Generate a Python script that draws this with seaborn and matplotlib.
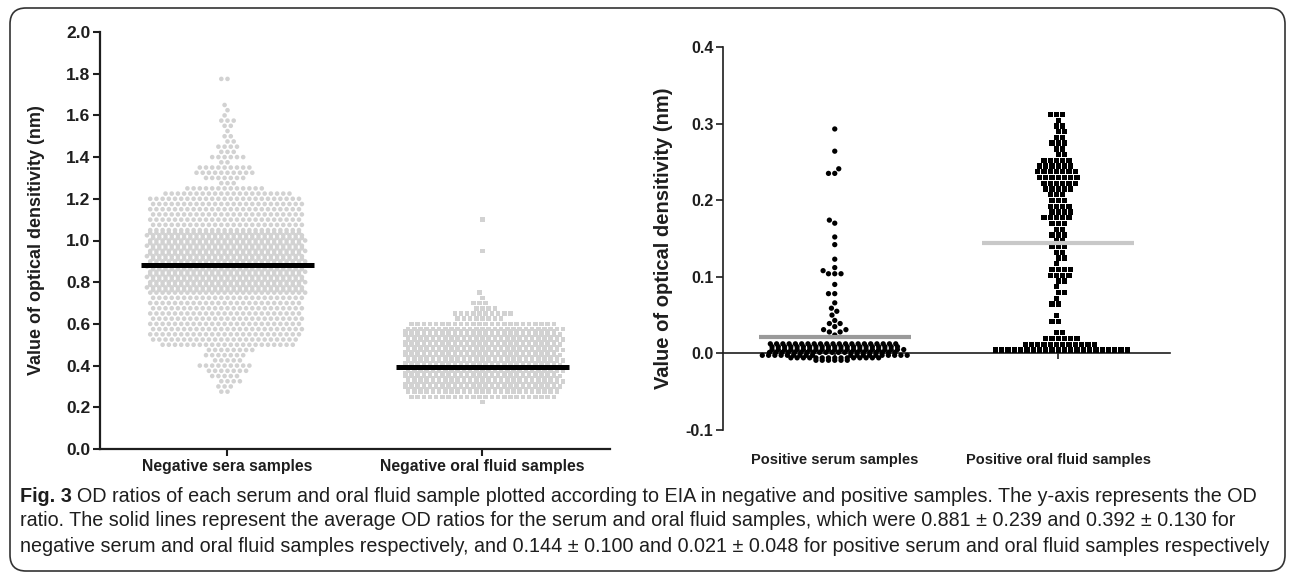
import numpy as np
import pandas as pd
import matplotlib
matplotlib.use("Agg")
import matplotlib.pyplot as plt
import seaborn as sns
from matplotlib.patches import FancyBboxPatch

# ====================================================
# Data (value level -> number of dots in that row)
# ====================================================
neg_groups = ["Negative sera samples", "Negative oral fluid samples"]
neg_means = [0.881, 0.392]

sera_levels = [0.275, 0.300, 0.325, 0.350, 0.375, 0.400, 0.425, 0.450, 0.475, 0.500,
               0.525, 0.550, 0.575, 0.600, 0.625, 0.650, 0.675, 0.700, 0.725, 0.750,
               0.775, 0.800, 0.825, 0.850, 0.875, 0.900, 0.925, 0.950, 0.975, 1.000,
               1.025, 1.050, 1.075, 1.100, 1.125, 1.150, 1.175, 1.200, 1.225, 1.250,
               1.275, 1.300, 1.325, 1.350, 1.375, 1.400, 1.425, 1.450, 1.475, 1.500,
               1.525, 1.550, 1.575, 1.600, 1.625, 1.650, 1.775]
sera_counts = [2, 3, 4, 5, 7, 9, 5, 7, 8, 22,
               24, 25, 25, 25, 25, 25, 25, 25, 25, 26,
               26, 26, 26, 26, 26, 26, 26, 26, 26, 26,
               26, 25, 25, 25, 25, 25, 25, 25, 21, 13,
               3, 7, 10, 9, 2, 6, 3, 4, 2, 2,
               1, 2, 3, 1, 1, 1, 2]
# the solid (overlapping) core of the sera column
sera_core_levels = [0.7625, 0.7875, 0.8125, 0.8375, 0.8625, 0.8875,
                    0.9125, 0.9375, 0.9625, 0.9875, 1.0125, 1.0375]
sera_core_counts = [25, 25, 25, 25, 25, 25, 25, 25, 25, 25, 25, 25]

oral_levels = [0.225, 0.250, 0.275, 0.300, 0.325, 0.350, 0.375, 0.400, 0.425, 0.450,
               0.475, 0.500, 0.525, 0.550, 0.575, 0.600, 0.625, 0.650, 0.675, 0.700,
               0.725, 0.750, 0.950, 1.100]
oral_counts = [1, 24, 25, 26, 26, 26, 26, 26, 26, 26,
               26, 26, 26, 26, 26, 24, 8, 10, 4, 3,
               1, 1, 1, 1]
oral_core_levels = [0.2875, 0.3125, 0.3375, 0.3625, 0.3875, 0.4125,
                    0.4375, 0.4625, 0.4875, 0.5125, 0.5375, 0.5625]
oral_core_counts = [25, 25, 25, 25, 25, 25, 25, 25, 25, 25, 25, 25]

pos_groups = ["Positive serum samples", "Positive oral fluid samples"]
pos_means = [0.021, 0.144]

serum_pos_levels = [-0.0090, -0.0025, 0.0050, 0.0125, 0.024, 0.028, 0.031, 0.035, 0.039,
                    0.043, 0.050, 0.055, 0.059, 0.066, 0.078, 0.090, 0.104, 0.108,
                    0.112, 0.123, 0.142, 0.152, 0.170, 0.174, 0.235, 0.241, 0.264, 0.293]
serum_pos_counts = [6, 19, 22, 21, 1, 2, 2, 1, 2,
                    1, 1, 1, 1, 1, 2, 1, 3, 1,
                    1, 1, 1, 1, 1, 1, 2, 1, 1, 1]
# overlapping base of the positive serum column
serum_core_levels = [-0.0058, 0.0013, 0.0088]
serum_core_counts = [15, 21, 21]

oral_pos_levels = [0.0045, 0.0120, 0.0195, 0.0270, 0.0420, 0.0495, 0.0645, 0.0720,
                   0.0795, 0.0870, 0.0945, 0.1020, 0.1095, 0.1170, 0.1245, 0.1320,
                   0.1395, 0.1470, 0.1545, 0.1620, 0.1695, 0.1770, 0.1845, 0.1920,
                   0.1995, 0.2070, 0.2145, 0.2220, 0.2295, 0.2370, 0.2445, 0.2520,
                   0.2595, 0.2670, 0.2745, 0.2820, 0.2895, 0.2970, 0.3045, 0.3120]
oral_pos_counts = [22, 12, 6, 2, 2, 1, 2, 1,
                   2, 1, 2, 4, 4, 1, 2, 2,
                   3, 2, 3, 2, 3, 5, 4, 4,
                   3, 3, 5, 6, 7, 7, 6, 5,
                   2, 2, 3, 2, 2, 2, 1, 3]

caption_lines = [
    "OD ratios of each serum and oral fluid sample plotted according to EIA in negative and positive samples. The y-axis represents the OD",
    "ratio. The solid lines represent the average OD ratios for the serum and oral fluid samples, which were 0.881 \u00b1 0.239 and 0.392 \u00b1 0.130 for",
    "negative serum and oral fluid samples respectively, and 0.144 \u00b1 0.100 and 0.021 \u00b1 0.048 for positive serum and oral fluid samples respectively",
]


def rows(group, levels, counts):
    return pd.DataFrame({"group": group, "value": np.repeat(levels, counts)})


# ====================================================
# Style
# ====================================================
sns.set_style("ticks")
plt.rcParams["font.family"] = ["Liberation Sans", "DejaVu Sans"]
ink = "#1e1e1e"

fig = plt.figure(figsize=(12.9, 5.74), dpi=100)
ax1 = fig.add_axes([100 / 1290, 125 / 574, 510 / 1290, 417 / 574])
ax2 = fig.add_axes([723 / 1290, 144 / 574, 447 / 1290, 383 / 574])

# ====================================================
# Left panel: negative samples
# ====================================================
light = "#d2d2d2"
left_kw = dict(x="group", y="value", order=neg_groups, ax=ax1, color=light,
               size=3.3, linewidth=0.95, edgecolor="none", warn_thresh=1)
sns.swarmplot(data=rows(neg_groups[0], sera_levels, sera_counts), marker="o", **left_kw)
sns.swarmplot(data=rows(neg_groups[0], sera_core_levels, sera_core_counts), marker="o", **left_kw)
sns.swarmplot(data=rows(neg_groups[1], oral_levels, oral_counts), marker="s", **left_kw)
sns.swarmplot(data=rows(neg_groups[1], oral_core_levels, oral_core_counts), marker="s", **left_kw)

pos = np.arange(len(neg_groups))
ax1.hlines(neg_means, pos - 0.34, pos + 0.34, color="black", lw=3.6, zorder=5)

ax1.set_xlim(-0.5, 1.5)
ax1.set_ylim(0, 2.0)
ax1.set_yticks(np.arange(0, 2.01, 0.2))
ax1.set_yticklabels([f"{v:.1f}" for v in np.arange(0, 2.01, 0.2)])
ax1.set_xlabel("")
ax1.set_ylabel("Value of optical densitivity (nm)", fontsize=13, fontweight="bold", color=ink)
ax1.yaxis.set_label_coords(-0.108, 0.5)
for s in ["top", "right"]:
    ax1.spines[s].set_visible(False)
for s in ["left", "bottom"]:
    ax1.spines[s].set_linewidth(1.6)
    ax1.spines[s].set_color(ink)
ax1.tick_params(axis="y", direction="out", length=5, width=1.5, color=ink,
                labelcolor=ink, labelsize=12.5, pad=2)
ax1.tick_params(axis="x", direction="out", length=5, width=1.5, color=ink,
                labelcolor=ink, labelsize=11.3, pad=2)
for lab in ax1.get_xticklabels() + ax1.get_yticklabels():
    lab.set_fontweight("bold")

# ====================================================
# Right panel: positive samples
# ====================================================
right_kw = dict(x="group", y="value", order=pos_groups, ax=ax2, color="black",
                size=3.8, linewidth=0.5, edgecolor="none", warn_thresh=1)
sns.swarmplot(data=rows(pos_groups[0], serum_pos_levels, serum_pos_counts), marker="o", **right_kw)
sns.swarmplot(data=rows(pos_groups[0], serum_core_levels, serum_core_counts), marker="o", **right_kw)
sns.swarmplot(data=rows(pos_groups[1], oral_pos_levels, oral_pos_counts), marker="s", **right_kw)

pos = np.arange(len(pos_groups))
ax2.hlines(pos_means, pos - 0.34, pos + 0.34, color=["#9a9a9a", "#c8c8c8"], lw=3, zorder=5)

ax2.set_xlim(-0.5, 1.5)
ax2.set_ylim(-0.1, 0.4)
ax2.set_yticks(np.arange(-0.1, 0.41, 0.1))
ax2.set_yticklabels([f"{v:.1f}" for v in np.arange(-0.1, 0.41, 0.1)])
ax2.set_xlabel("")
ax2.set_ylabel("Value of optical densitivity (nm)", fontsize=14.5, fontweight="bold", color=ink)
ax2.yaxis.set_label_coords(-0.112, 0.5)
ax2.spines["top"].set_visible(False)
ax2.spines["right"].set_visible(False)
ax2.spines["bottom"].set_position(("data", 0))
for s in ["left", "bottom"]:
    ax2.spines[s].set_linewidth(1.2)
    ax2.spines[s].set_color(ink)
ax2.tick_params(axis="y", direction="out", length=5, width=1.2, color=ink,
                labelcolor=ink, labelsize=11.5, pad=2)
ax2.tick_params(axis="x", direction="out", length=4, width=1.2, color=ink,
                labelcolor=ink, labelsize=10.5, pad=68)
for lab in ax2.get_xticklabels() + ax2.get_yticklabels():
    lab.set_fontweight("bold")

# ====================================================
# Caption and frame
# ====================================================
cap_font = ["Liberation Sans", "DejaVu Sans"]
cap_size = 14.2
cap_y = [1 - 496 / 574, 1 - 521 / 574, 1 - 546 / 574]
x0 = 20 / 1290
renderer = fig.canvas.get_renderer()
fig_label = fig.text(x0, cap_y[0], "Fig. 3", family=cap_font, fontsize=cap_size,
                     fontweight="bold", color=ink, va="center")
w = fig_label.get_window_extent(renderer).width / fig.bbox.width
fig.text(x0 + w + 5 / 1290, cap_y[0], caption_lines[0], family=cap_font,
         fontsize=cap_size, color=ink, va="center")
for line, y in zip(caption_lines[1:], cap_y[1:]):
    fig.text(x0, y, line, family=cap_font, fontsize=cap_size, color=ink, va="center")

frame = FancyBboxPatch((0.1, 0.03), 12.75, 5.63, boxstyle="round,pad=0,rounding_size=0.16",
                       transform=fig.dpi_scale_trans, fill=False, edgecolor="#333333",
                       lw=1.2, clip_on=False)
fig.patches.append(frame)

fig.savefig("out.png", dpi=100)
